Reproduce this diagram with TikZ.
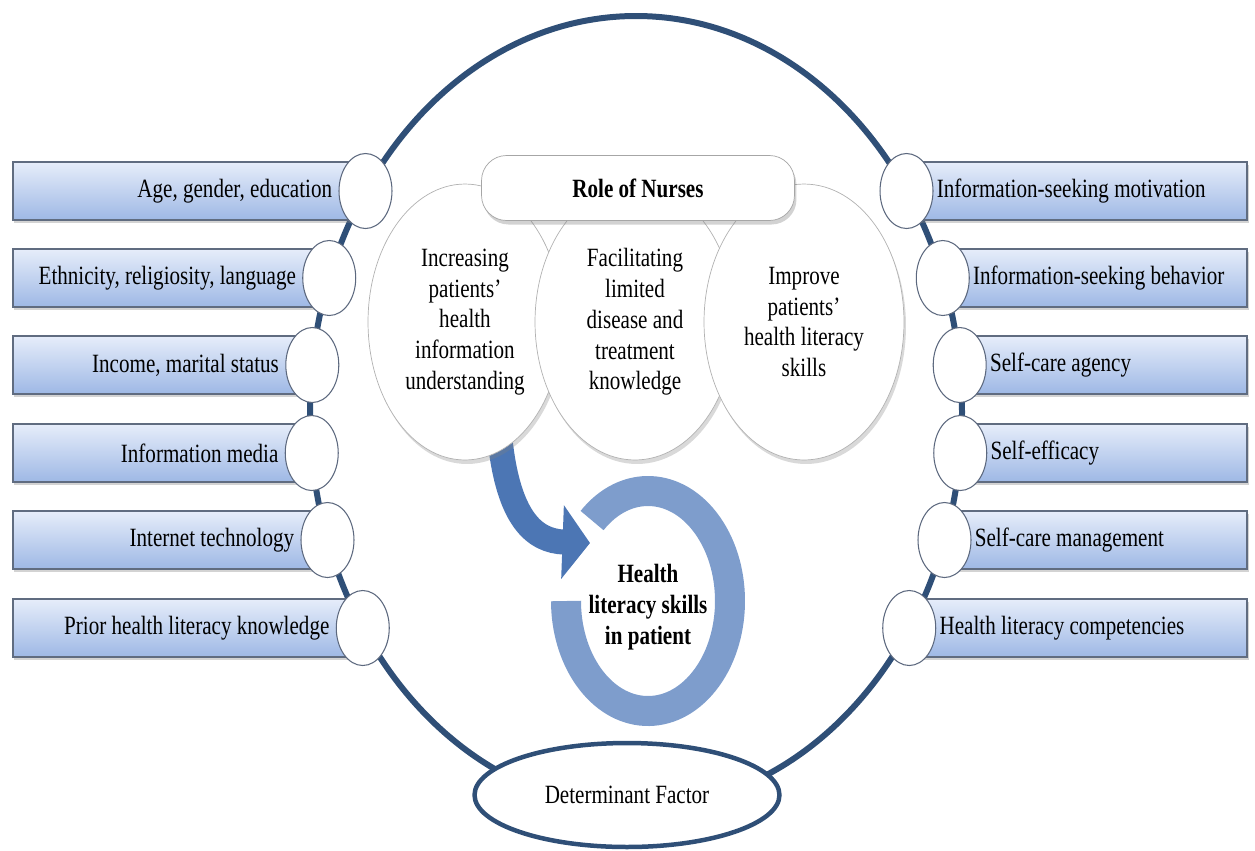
\documentclass[tikz,border=0pt]{standalone}
\usepackage{fontspec}
\setmainfont{Liberation Serif}[FakeStretch=0.8]
\usetikzlibrary{calc,shapes.geometric,shadows,arrows.meta,backgrounds}

\definecolor{rimblue}{RGB}{47,79,119}
\definecolor{ringblue}{RGB}{126,157,204}
\definecolor{arrowblue}{RGB}{76,118,180}
\definecolor{barlight}{RGB}{230,237,250}
\definecolor{bardark}{RGB}{158,184,229}
\definecolor{barline}{RGB}{96,108,128}
\definecolor{linkline}{RGB}{92,104,126}

\newcommand{\labelfont}{\fontsize{15}{17.5}\selectfont}

\tikzset{
	rim/.style={
		draw=rimblue,
		line width=0.12cm
	},
	factor/.style={
		draw=barline,
		line width=0.6pt,
		top color=barlight,
		bottom color=bardark,
		drop shadow={shadow xshift=0.03cm, shadow yshift=-0.06cm, opacity=0.35}
	},
	factor label/.style={
		inner sep=0,
		font=\labelfont
	},
	link/.style={
		ellipse,
		draw=linkline,
		fill=white,
		line width=0.6pt,
		minimum width=1.06cm,
		minimum height=1.5cm,
		inner sep=0
	},
	role/.style={
		ellipse,
		draw=black!30,
		fill=white,
		minimum height=5.52cm,
		align=center,
		inner sep=0,
		font=\labelfont,
		drop shadow={shadow xshift=0.04cm, shadow yshift=-0.08cm, opacity=0.3}
	},
	nurses/.style={
		rectangle,
		rounded corners=0.5cm,
		draw=black!35,
		fill=white,
		minimum width=6.26cm,
		minimum height=1.3cm,
		font=\labelfont\bfseries,
		drop shadow={shadow xshift=0.04cm, shadow yshift=-0.08cm, opacity=0.35}
	},
	pointer/.style={
		draw=arrowblue,
		line width=0.5cm,
		-{Triangle[length=0.55cm, width=1.45cm]}
	}
}

\begin{document}
\begin{tikzpicture}[x=0.02cm, y=-0.02cm]
	\useasboundingbox (0,0) rectangle (1255,850);

	%% Outer rim
	\draw[rim] (636,412) ellipse [x radius=326, y radius=396];

	%% Left factors
	\foreach \y/\lbl [count=\i] in {191/{Age, gender, education}, 278/{Ethnicity, religiosity, language}, 365/{Income, marital status}, 453/{Information media}, 540/{Internet technology}, 628/{Prior health literacy knowledge}} {
		\pgfmathsetmacro{\xl}{636-326*sqrt(1-((\y-412)/396)^2)}
		\draw[factor] (13,\y-29) rectangle (\xl,\y+29);
		\node[link] (l\i) at (\xl,\y) {};
		\node[factor label, anchor=east] (lt\i) at ([xshift=-0.12cm]l\i.west) {\lbl};
	}

	%% Right factors
	\foreach \y/\lbl [count=\i] in {191/{Information-seeking motivation}, 278/{Information-seeking behavior}, 365/{Self-care agency}, 453/{Self-efficacy}, 540/{Self-care management}, 628/{Health literacy competencies}} {
		\pgfmathsetmacro{\xr}{636+326*sqrt(1-((\y-412)/396)^2)}
		\draw[factor] (\xr,\y-29) rectangle (1247,\y+29);
		\node[link] (r\i) at (\xr,\y) {};
		\node[factor label, anchor=west] (rt\i) at ([xshift=0.06cm]r\i.east) {\lbl};
	}

	%% Role of nurses
	\node[role, minimum width=3.88cm] (incr) at (465,322) {Increasing\\patients'\\health\\information\\understanding};
	\node[role, minimum width=4cm] (fac) at (635,322) {Facilitating\\limited\\disease and\\treatment\\knowledge};
	\node[role, minimum width=4cm] (impr) at (804,322) {Improve\\patients'\\health literacy\\skills};
	\node[nurses] (nurses) at (638,188) {Role of Nurses};

	% Outcome ring
	\draw[ringblue, line width=0.6cm] (648,601) ++(-133:82 and 110) arc[start angle=-133, end angle=180, x radius=82, y radius=110];
	\node[align=center, inner sep=0, font=\labelfont\bfseries] (skills) at (648,607) {Health\\literacy skills\\in patient};

	\coordinate (tip) at (590,543);
	\begin{scope}[on background layer]
		\draw[pointer] ([yshift=0.3cm]incr.-75) .. controls (508,520) and (535,541) .. (tip);
	\end{scope}

	% Determinant
	\node[ellipse, draw=rimblue, line width=0.09cm, fill=white, minimum width=6.1cm, minimum height=2.08cm, font=\labelfont] (det) at (627,795) {Determinant Factor};

\end{tikzpicture}
\end{document}
